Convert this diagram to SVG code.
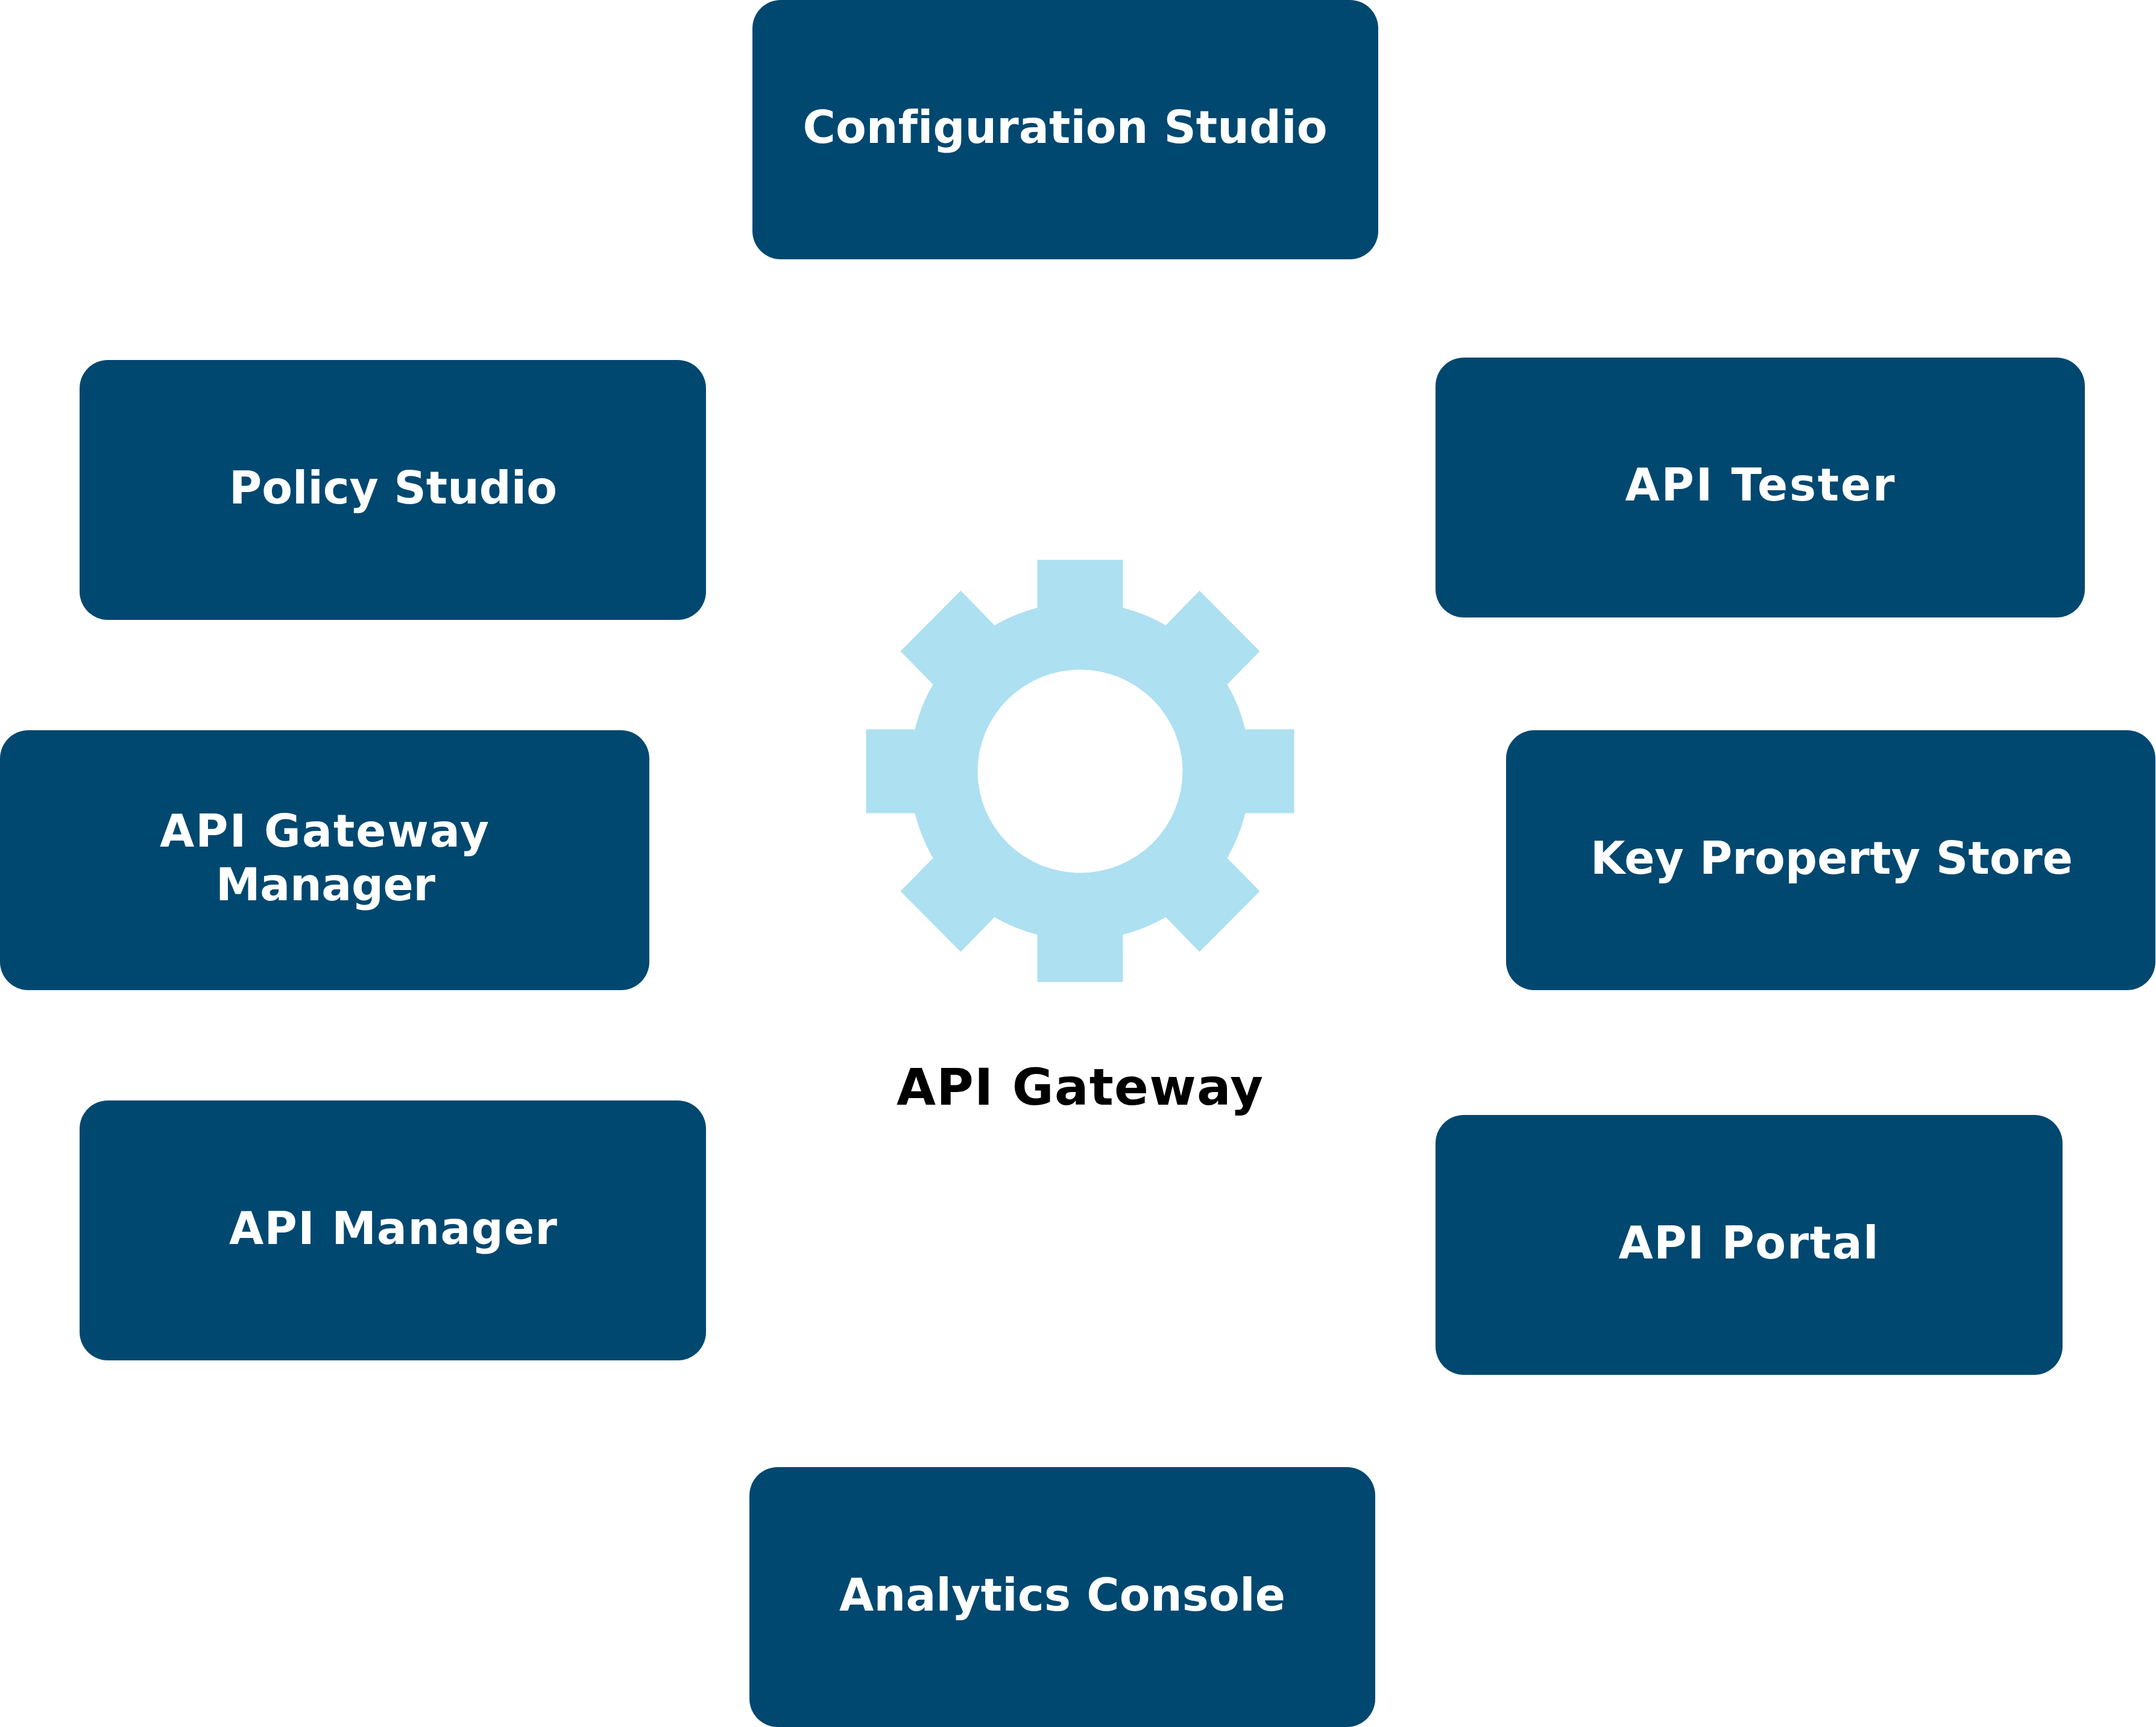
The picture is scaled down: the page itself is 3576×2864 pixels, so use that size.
<svg xmlns="http://www.w3.org/2000/svg" width="3576" height="2864" viewBox="0 0 3576 2864">
<style>
.box{fill:#004870}
.lbl{font-family:"DejaVu Sans",Verdana,sans-serif;font-weight:700;font-size:74px;fill:#fff;text-anchor:middle;font-variant-ligatures:none}
.title{font-family:"DejaVu Sans",Verdana,sans-serif;font-weight:700;font-size:84px;fill:#000;text-anchor:middle;font-variant-ligatures:none}
</style>
<rect width="3576" height="2864" fill="#fff"/>
<g id="connectors"/>
<g id="config-studio"><rect class="box" x="1248" y="0" width="1038" height="430" rx="47"/><text class="lbl" x="1766.5" y="237" textLength="870">Configuration Studio</text></g>
<g id="policy-studio"><rect class="box" x="132" y="597" width="1039" height="431" rx="47"/><text class="lbl" x="652" y="834.5" textLength="544">Policy Studio</text></g>
<g id="api-tester"><rect class="box" x="2381" y="593" width="1077" height="431" rx="47"/><text class="lbl" x="2919" y="830" textLength="447">API Tester</text></g>
<g id="gateway-manager"><rect class="box" x="0" y="1211" width="1077" height="431" rx="47"/><text class="lbl" x="538" y="1403.5" textLength="546">API Gateway</text><text class="lbl" x="540" y="1493" textLength="364">Manager</text></g>
<g id="key-property-store"><rect class="box" x="2498" y="1211" width="1077" height="431" rx="47"/><text class="lbl" x="3038" y="1449" textLength="800">Key Property Store</text></g>
<g id="api-manager"><rect class="box" x="132" y="1825" width="1039" height="431" rx="47"/><text class="lbl" x="652" y="2063" textLength="544">API Manager</text></g>
<g id="api-portal"><rect class="box" x="2381" y="1849" width="1040" height="431" rx="47"/><text class="lbl" x="2900" y="2087" textLength="431">API Portal</text></g>
<g id="analytics-console"><rect class="box" x="1243" y="2433" width="1038" height="431" rx="47"/><text class="lbl" x="1762" y="2671" textLength="740">Analytics Console</text></g>
<g id="api-gateway">
<path fill="#ADE0F1" fill-rule="evenodd" d="M1720.5 928.5H1862.5V1008A281 281 0 0 1 1933.5 1037L1989.5 979.5L2089.5 1080L2035.5 1135A281 281 0 0 1 2065.5 1209.5H2146.5V1348.5H2065.5A281 281 0 0 1 2035.5 1423L2089.5 1478L1989.5 1578.5L1933.5 1521A281 281 0 0 1 1862.5 1550V1628.5H1720.5V1550A281 281 0 0 1 1649.5 1521L1593.5 1578.5L1493.5 1478L1547.5 1423A281 281 0 0 1 1517.5 1348.5H1436.5V1209.5H1517.5A281 281 0 0 1 1547.5 1135L1493.5 1080L1593.5 979.5L1649.5 1037A281 281 0 0 1 1720.5 1008ZM1791.5 1110.5A170 168.5 0 1 0 1791.5 1447.5A170 168.5 0 1 0 1791.5 1110.5Z"/>
<text class="title" x="1791" y="1832" textLength="608">API Gateway</text>
</g>
</svg>
